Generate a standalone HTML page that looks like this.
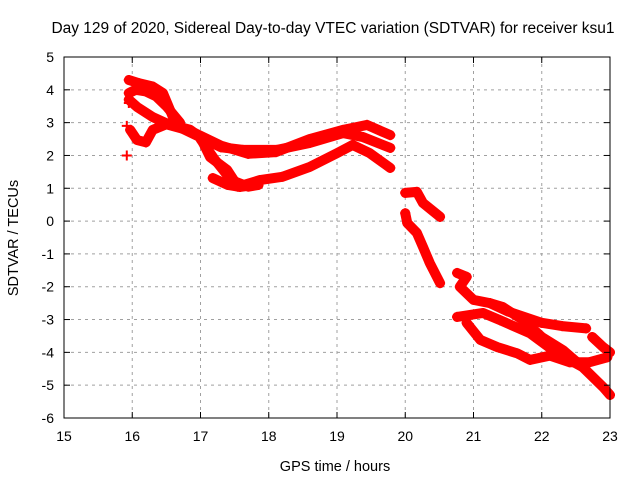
<!DOCTYPE html>
<html><head><meta charset="utf-8"><style>
html,body{margin:0;padding:0;background:#fff;}
svg{display:block;font-family:"Liberation Sans",sans-serif;}
</style></head><body>
<svg id="chart" width="640" height="480" xmlns="http://www.w3.org/2000/svg">
<text x="333" y="33" font-size="15.5" text-anchor="middle">Day 129 of 2020, Sidereal Day-to-day VTEC variation (SDTVAR) for receiver ksu1</text>
<g id="grid"></g>
<g id="series"></g>
<rect x="64" y="57" width="546" height="361" fill="none" stroke="#000" stroke-width="1"/>
<g id="ticks"></g>
<text x="335" y="471" font-size="14.5" text-anchor="middle">GPS time / hours</text>
<text x="18" y="238" font-size="14.5" text-anchor="middle" transform="rotate(-90 18 238)">SDTVAR / TECUs</text>
</svg>
<script>
const xTicks=[15,16,17,18,19,20,21,22,23];
const yTicks=[5,4,3,2,1,0,-1,-2,-3,-4,-5,-6];
const trackA_t=[15.95,16.1,16.3,16.45,16.65,17.0,17.14,17.39,17.55,17.87,18.2,18.6,19.0,19.23,19.48,19.78];
const trackA_v=[4.3,4.2,4.1,3.9,2.9,2.55,1.95,1.56,1.05,1.25,1.35,1.65,2.07,2.32,2.07,1.62];
const trackA2_t=[15.95,16.05,16.2,16.35,16.5,16.7];
const trackA2_v=[3.9,4.0,3.95,3.8,3.5,3.0];
const trackB_t=[15.95,16.07,16.3,16.5,16.85,17.0,17.3,17.62,18.12,18.6,19.09,19.38,19.78];
const trackB_v=[3.7,3.48,3.17,2.98,2.78,2.55,2.25,2.17,2.17,2.38,2.68,2.56,2.23];
const trackC_t=[15.97,16.07,16.2,16.3,16.5,16.85,17.3,17.7,18.1,18.6,19.09,19.44,19.78];
const trackC_v=[2.78,2.47,2.4,2.78,2.95,2.75,2.3,2.05,2.1,2.5,2.78,2.93,2.62];
const trackD_t=[17.0,17.2,17.45,17.7,17.85];
const trackD_v=[2.5,1.9,1.25,1.05,1.1];
const trackE_t=[17.18,17.4,17.58,17.8];
const trackE_v=[1.31,1.1,1.04,1.1];
const trackR1_t=[20.0,20.17,20.26,20.51];
const trackR1_v=[0.86,0.89,0.55,0.13];
const trackR2_t=[20.0,20.03,20.17,20.26,20.36,20.51];
const trackR2_v=[0.24,-0.06,-0.36,-0.79,-1.28,-1.89];
const trackR3_t=[20.76,20.9,20.8,21.0,21.24,21.5,22.0,22.3,22.65];
const trackR3_v=[-1.58,-1.7,-2.0,-2.4,-2.5,-2.75,-3.1,-3.2,-3.27];
const trackR4_t=[20.76,21.14,21.39,21.83,22.22,22.6,22.9,23.0];
const trackR4_v=[-2.92,-2.8,-3.02,-3.42,-4.02,-4.45,-5.06,-5.3];
const trackR5_t=[20.9,21.1,21.35,21.64,21.83,22.12,22.41,22.7,22.96];
const trackR5_v=[-3.1,-3.62,-3.84,-4.03,-4.23,-4.1,-4.3,-4.3,-4.15];
const trackR6_t=[21.24,21.43,21.73,22.0,22.31,22.6];
const trackR6_v=[-2.5,-2.62,-3.02,-3.53,-3.93,-4.45];
const trackR7_t=[22.74,22.9,23.0];
const trackR7_v=[-3.53,-3.84,-4.0];
const outlier_t=[15.92,15.92,15.95];
const outlier_v=[2.0,2.9,3.6];
const tracks=[[trackA_t,trackA_v],[trackA2_t,trackA2_v],[trackB_t,trackB_v],[trackC_t,trackC_v],[trackD_t,trackD_v],[trackE_t,trackE_v],[trackR1_t,trackR1_v],[trackR2_t,trackR2_v],[trackR3_t,trackR3_v],[trackR4_t,trackR4_v],[trackR5_t,trackR5_v],[trackR6_t,trackR6_v],[trackR7_t,trackR7_v]];

const NS='http://www.w3.org/2000/svg';
const X0=64,X1=610,Y0=57,Y1=418;
function sx(t){return X0+(t-15)/(23-15)*(X1-X0);}
function sy(v){return Y0+(5-v)/(5-(-6))*(Y1-Y0);}
function mk(tag,attrs,parent){const e=document.createElementNS(NS,tag);for(const k in attrs)e.setAttribute(k,attrs[k]);parent.appendChild(e);return e;}
const grid=document.getElementById('grid'),ticks=document.getElementById('ticks'),ser=document.getElementById('series');
xTicks.forEach(t=>{
  const x=sx(t);
  if(t>15&&t<23){const g=mk('line',{x1:x,y1:Y0,x2:x,y2:Y1,stroke:'#a0a0a0','stroke-dasharray':'3,4'},grid);
  
  }
  mk('line',{x1:x,y1:Y1,x2:x,y2:Y1-6,stroke:'#000'},ticks);
  mk('line',{x1:x,y1:Y0,x2:x,y2:Y0+6,stroke:'#000'},ticks);
  const l=mk('text',{x:x,y:Y1+23,'font-size':14,'text-anchor':'middle'},ticks);l.textContent=t;
  
  
});
yTicks.forEach(v=>{
  const y=sy(v);
  if(v<5&&v>-6){const g=mk('line',{x1:X0,y1:y,x2:X1,y2:y,stroke:'#a0a0a0','stroke-dasharray':'3,4'},grid);
  
  }
  mk('line',{x1:X0,y1:y,x2:X0+6,y2:y,stroke:'#000'},ticks);
  mk('line',{x1:X1,y1:y,x2:X1-6,y2:y,stroke:'#000'},ticks);
  const l=mk('text',{x:X0-10,y:y+5,'font-size':14,'text-anchor':'end'},ticks);l.textContent=v;
  
  
});
function plus(t,v){
  const x=sx(t),y=sy(v);
  const p=mk('path',{d:`M${x-5},${y}H${x+5}M${x},${y-5}V${y+5}`,stroke:'#f00','stroke-width':2,fill:'none'},ser);
  
  
}
tracks.forEach(([ts,vs])=>{
  const pts=ts.map((t,i)=>sx(t)+','+sy(vs[i])).join(' ');
  const pl=mk('polyline',{points:pts,fill:'none',stroke:'#f00','stroke-width':10,'stroke-linejoin':'round','stroke-linecap':'round'},ser);
  
  
  ts.forEach((t,i)=>plus(t,vs[i]));
});
outlier_t.forEach((t,i)=>plus(t,outlier_v[i]));
</script>
</body></html>
